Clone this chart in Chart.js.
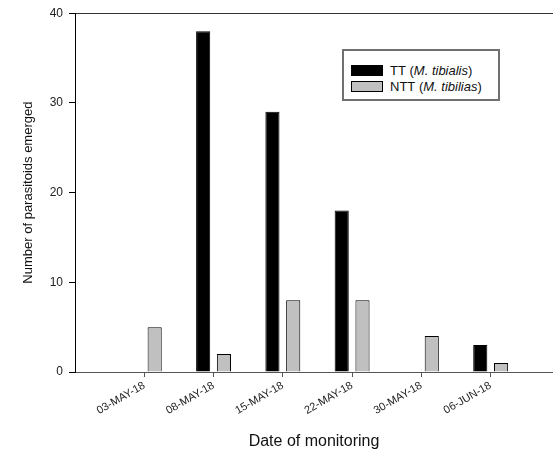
<!DOCTYPE html>
<html>
<head>
<meta charset="utf-8">
<script src="https://cdn.jsdelivr.net/npm/chart.js@4"></script>
<style>
  body { margin: 0; background: #fff; }
  #wrap { position: relative; width: 553px; height: 455px; }
  #legend {
    position: absolute; left: 342px; top: 49px; width: 158px; height: 52px;
    box-sizing: border-box; border: 2px solid #707070; background: #fff;
    padding: 11px 0 0 7px;
    font: 13px "Liberation Sans", Arial, sans-serif; color: #111;
  }
  #legend .row { display: flex; align-items: center; height: 16px; }
  #legend .sw { width: 32px; height: 11px; box-sizing: border-box; border: 1px solid #000; margin-right: 7px; }
</style>
</head>
<body>
<div id="wrap">
  <canvas id="barChart" width="553" height="455"></canvas>
  <div id="legend"></div>
</div>
<script>
// dates of monitoring
var dates = ["03-MAY-18", "08-MAY-18", "15-MAY-18", "22-MAY-18", "30-MAY-18", "06-JUN-18"];
// parasitoids emerged per date
var ttValues = [null, 38, 29, 18, null, 3];
var nttValues = [5, 2, 8, 8, 4, 1];
var seriesNames = ["TT", "NTT"];
var speciesNames = ["M. tibialis", "M. tibilias"];
var yTicks = [0, 10, 20, 30, 40];

var fontFamily = '"Liberation Sans", Arial, sans-serif';

function toPoints(values) {
  return values.map(function (v, i) { return { x: i + 1, y: v }; });
}

var ctx = document.getElementById("barChart").getContext("2d");

var barChart = new Chart(ctx, {
  type: "bar",
  data: {
    datasets: [
      {
        label: seriesNames[0],
        species: speciesNames[0],
        data: toPoints(ttValues),
        backgroundColor: "#000000",
        borderColor: "#000000",
        borderWidth: 1,
      },
      {
        label: seriesNames[1],
        species: speciesNames[1],
        data: toPoints(nttValues),
        backgroundColor: "#c0c0c0",
        borderColor: "#000000",
        borderWidth: 1,
      },
    ],
  },
  options: {
    responsive: false,
    animation: false,
    categoryPercentage: 0.6,
    barPercentage: 0.68,
    layout: { padding: { top: 12, right: 0, left: 0, bottom: 0 } },
    plugins: {
      legend: { display: false },
      tooltip: { enabled: false },
    },
    scales: {
      x: {
        type: "linear",
        position: "bottom",
        offset: false,
        min: 0,
        max: 6.9,
        afterBuildTicks: function (scale) {
          scale.ticks = dates.map(function (d, i) { return { value: i + 1 }; });
        },
        afterFit: function (scale) { scale.height = 83; },
        grid: { offset: false, drawOnChartArea: false, tickLength: 5, color: "#555" },
        border: { color: "#555", width: 1 },
        ticks: {
          autoSkip: false,
          minRotation: 30,
          maxRotation: 30,
          padding: 2,
          color: "#222",
          font: { family: fontFamily, size: 11 },
          callback: function (value) { return dates[value - 1]; },
        },
        title: {
          display: true,
          text: "Date of monitoring",
          color: "#111",
          font: { family: fontFamily, size: 16 },
          padding: { top: 0, bottom: 4 },
        },
      },
      xTop: {
        type: "linear",
        position: "top",
        offset: false,
        min: 0,
        max: 6.9,
        afterFit: function (scale) { scale.height = 0; },
        grid: { display: false },
        ticks: { display: false },
        border: { display: true, color: "#333", width: 1 },
      },
      y: {
        min: 0,
        max: 40,
        afterBuildTicks: function (scale) {
          scale.ticks = yTicks.map(function (v) { return { value: v }; });
        },
        afterFit: function (scale) { scale.width = 75; },
        grid: { drawOnChartArea: false, tickLength: 6, color: "#000" },
        border: { color: "#000", width: 1 },
        ticks: {
          padding: 6,
          color: "#222",
          font: { family: fontFamily, size: 12 },
        },
        title: {
          display: true,
          text: "Number of parasitoids emerged",
          color: "#111",
          font: { family: fontFamily, size: 13 },
          padding: { top: 21, bottom: 0 },
        },
      },
    },
  },
});

// legend with italic species names
var legend = document.getElementById("legend");
barChart.data.datasets.forEach(function (ds) {
  var row = document.createElement("div");
  row.className = "row";
  var sw = document.createElement("span");
  sw.className = "sw";
  sw.style.background = ds.backgroundColor;
  row.appendChild(sw);
  var txt = document.createElement("span");
  txt.innerHTML = ds.label + "&nbsp;(<i>" + ds.species + "</i>)";
  row.appendChild(txt);
  legend.appendChild(row);
});
</script>
</body>
</html>
